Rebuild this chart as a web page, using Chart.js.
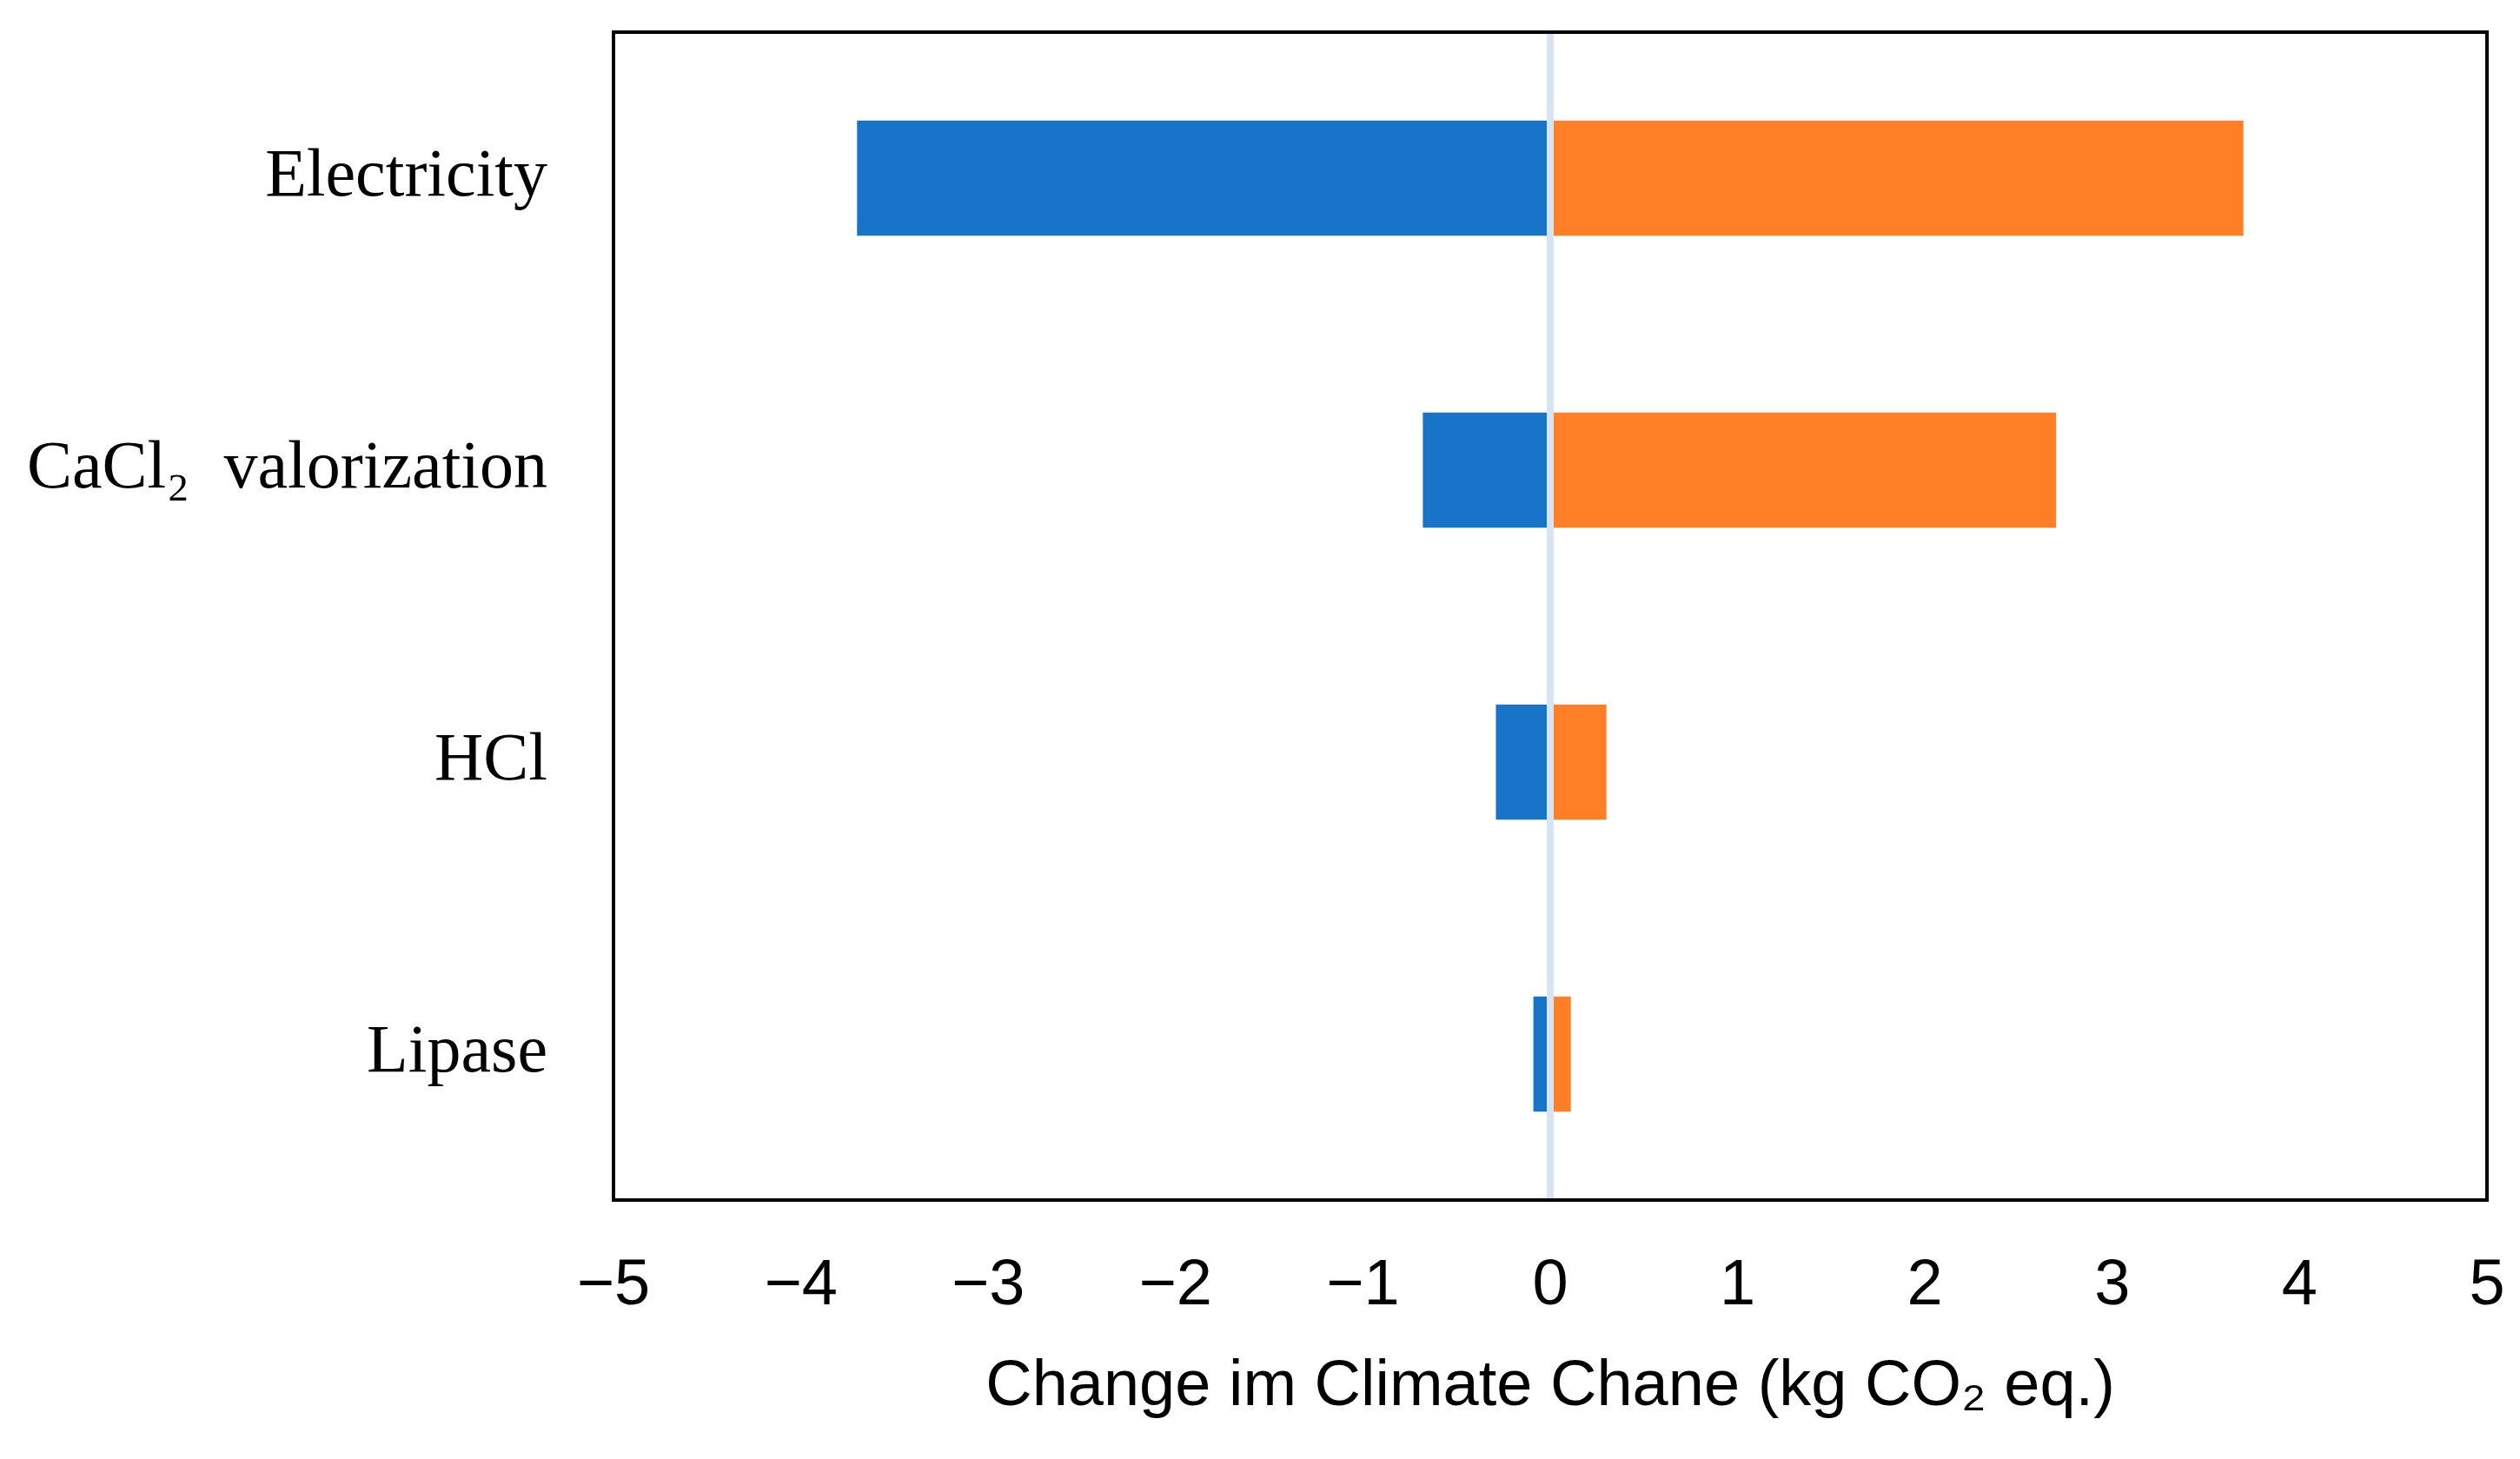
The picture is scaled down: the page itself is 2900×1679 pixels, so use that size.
<!DOCTYPE html>
<html>
<head>
<meta charset="utf-8">
<script src="https://cdn.jsdelivr.net/npm/chart.js@4.4.1/dist/chart.umd.min.js"></script>
<style>
  html, body { margin: 0; padding: 0; background: #fff; }
  canvas { display: block; }
</style>
</head>
<body>
<canvas id="chart" width="2900" height="1679"></canvas>
<script>
const categories = ['Electricity', 'CaCl\u2082  valorization', 'HCl', 'Lipase'];
const decrease = [-3.7, -0.68, -0.29, -0.09];
const increase = [3.7, 2.7, 0.3, 0.11];
const xTicks = [-5, -4, -3, -2, -1, 0, 1, 2, 3, 4, 5];

// box around the plot area
const frame = {
    id: 'frame',
    afterDraw(chart) {
        const { ctx, chartArea: a } = chart;
        ctx.save();
        ctx.strokeStyle = '#000';
        ctx.lineWidth = 4;
        ctx.strokeRect(a.left, a.top, a.right - a.left, a.bottom - a.top);
        ctx.restore();
    }
};

new Chart(document.getElementById('chart'), {
    type: 'bar',
    data: {
        labels: categories,
        datasets: [
            { label: 'decrease', data: decrease, backgroundColor: '#1874C8' },
            { label: 'increase', data: increase, backgroundColor: '#FF7F27' }
        ]
    },
    options: {
        indexAxis: 'y',
        responsive: false,
        devicePixelRatio: 1,
        animation: false,
        layout: { padding: { top: 37, right: 38, left: 0, bottom: 0 } },
        datasets: { bar: { categoryPercentage: 1, barPercentage: 0.395 } },
        plugins: {
            legend: { display: false },
            tooltip: { enabled: false }
        },
        scales: {
            x: {
                stacked: true,
                min: -5,
                max: 5,
                z: 1,
                afterBuildTicks: scale => { scale.ticks = xTicks.map(v => ({ value: v })); },
                afterFit: scale => {
                    scale.height = 298;
                    scale.paddingLeft = 0;
                    scale.paddingRight = 0;
                },
                border: { display: false },
                grid: {
                    drawTicks: false,
                    color: c => c.tick && c.tick.value === 0 ? '#D9E4F3' : 'rgba(0,0,0,0)',
                    lineWidth: c => c.tick && c.tick.value === 0 ? 8 : 0
                },
                ticks: {
                    padding: 55,
                    color: '#000',
                    font: { family: 'Liberation Sans', size: 74 },
                    callback: v => (v < 0 ? '\u2212' + Math.abs(v) : String(v))
                },
                title: {
                    display: true,
                    text: 'Change im Climate Chane (kg CO\u2082 eq.)',
                    color: '#000',
                    font: { family: 'Liberation Sans', size: 74 },
                    padding: { top: 0, bottom: 38 }
                }
            },
            y: {
                stacked: true,
                afterFit: scale => {
                    scale.width = 706;
                    scale.paddingTop = 0;
                    scale.paddingBottom = 0;
                },
                border: { display: false },
                grid: { display: false, drawTicks: false },
                ticks: {
                    padding: 76,
                    color: '#000',
                    font: { family: 'Liberation Serif', size: 78 }
                }
            }
        }
    },
    plugins: [frame]
});
</script>
</body>
</html>
